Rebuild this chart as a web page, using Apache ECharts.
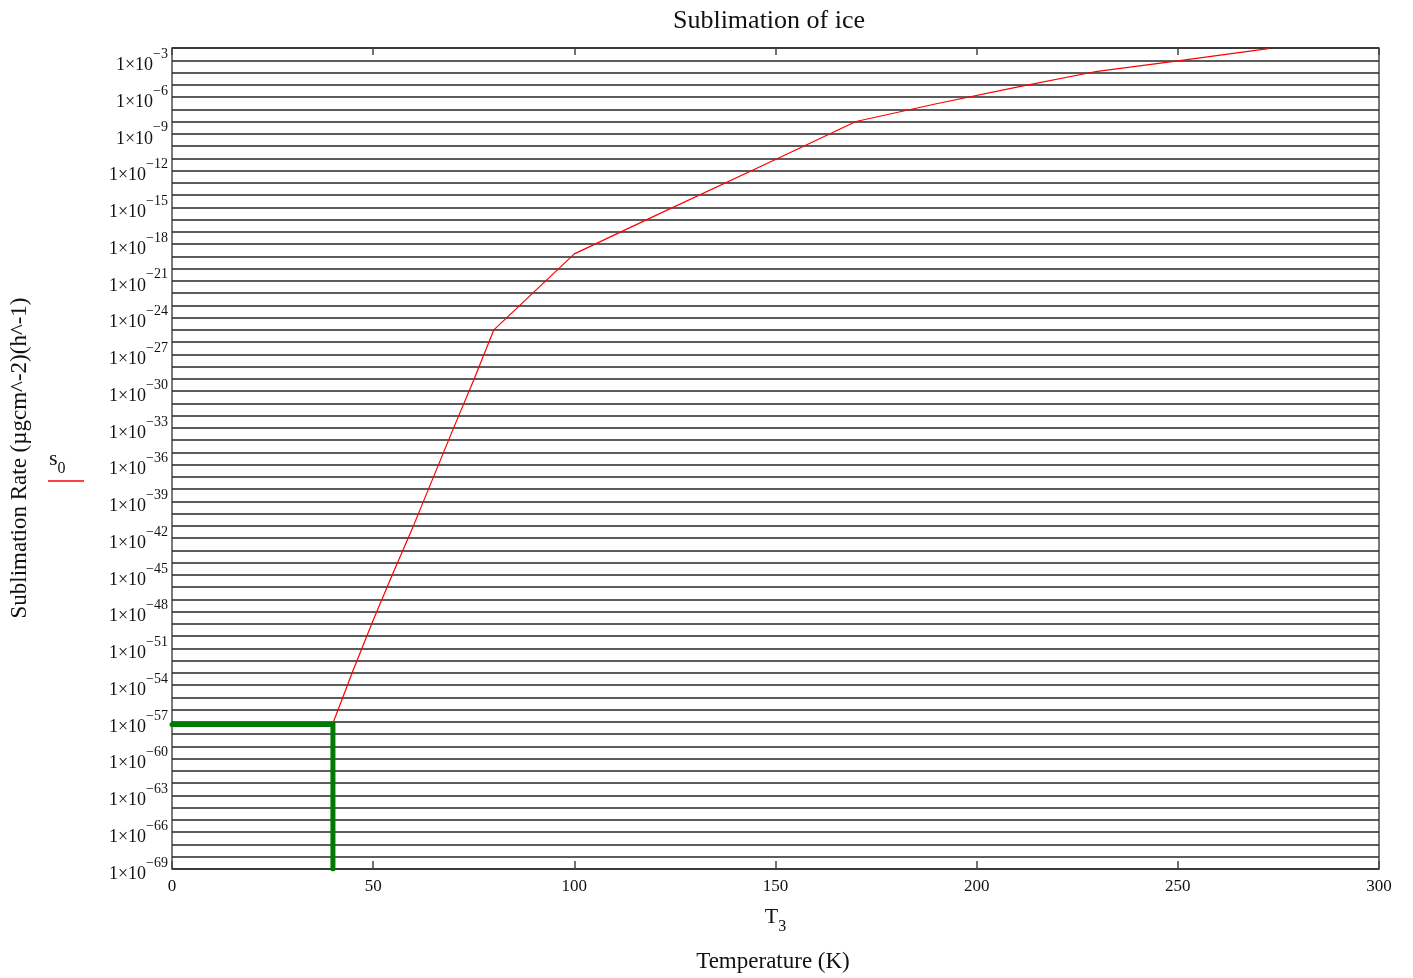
<!DOCTYPE html>
<html>
<head>
<meta charset="utf-8">
<script src="https://cdn.jsdelivr.net/npm/echarts@6/dist/echarts.min.js"></script>
<style>
  html, body { margin: 0; padding: 0; background: #ffffff; }
  #chart { width: 1413px; height: 978px; }
</style>
</head>
<body>
<div id="chart"></div>
<script>
// Temperature samples (K) and log10 of the sublimation rate (µg cm^-2 h^-1)
const temperatures = [40, 45, 50, 55, 60, 65, 70, 75, 80, 90, 100, 120, 150, 170, 190, 210, 230, 250, 272.5];
const log10Rate    = [-57.1, -52.8, -48.7, -44.8, -41.0, -37.0, -33.0, -29.1, -25.0, -21.9, -18.8, -15.7, -11.1, -8.0, -6.55, -5.2, -3.9, -3.05, -2.05];

// Marker: rate at the reference temperature, traced to both axes
const markerTemp = 40;
const markerLog10 = -57.2;

// Axis ranges
const xTickValues = [0, 50, 100, 150, 200, 250, 300];
const yDecadeMin = -69;
const yDecadeMax = -2;

const serif = '"Liberation Serif", "Times New Roman", serif';

const curve = temperatures.map((t, i) => [t, log10Rate[i]]);
const marker = [[xTickValues[0], markerLog10], [markerTemp, markerLog10], [markerTemp, yDecadeMin]];

const chart = echarts.init(document.getElementById('chart'), null, { renderer: 'canvas' });

chart.setOption({
  animation: false,
  backgroundColor: '#ffffff',
  grid: {
    left: 172, right: 34, top: 48, bottom: 109,
    show: true, borderColor: '#4d4d4d', borderWidth: 1.5, backgroundColor: 'transparent'
  },
  xAxis: [
    {
      type: 'value', position: 'bottom',
      min: xTickValues[0], max: xTickValues[xTickValues.length - 1], interval: 50,
      axisLine: { show: false },
      axisTick: { show: true, inside: true, length: 8, lineStyle: { color: '#444', width: 1.5 } },
      splitLine: { show: false },
      axisLabel: { fontFamily: serif, fontSize: 17, color: '#111', margin: 9 },
      name: '{t|T}{d|3}',
      nameLocation: 'middle',
      nameGap: 35,
      nameTextStyle: {
        rich: {
          t: { fontFamily: serif, fontSize: 22, color: '#111', verticalAlign: 'bottom', lineHeight: 24 },
          d: { fontFamily: serif, fontSize: 16, color: '#111', verticalAlign: 'bottom', lineHeight: 24, padding: [0, 0, -7, 0] }
        }
      }
    },
    {
      type: 'value', position: 'top',
      min: xTickValues[0], max: xTickValues[xTickValues.length - 1], interval: 50,
      axisLine: { show: false },
      axisTick: { show: true, inside: true, length: 7, lineStyle: { color: '#444', width: 1.5 } },
      axisLabel: { show: false },
      splitLine: { show: false }
    }
  ],
  yAxis: {
    type: 'value',
    min: yDecadeMin, max: yDecadeMax, interval: 1,
    axisLine: { show: false },
    axisTick: { show: false },
    splitLine: { show: true, lineStyle: { color: '#262626', width: 1.6 } },
    axisLabel: {
      margin: 4,
      formatter: function (v) {
        const n = Math.round(v);
        if (n % 3 !== 0) return '';
        return '{b|1×10}{s|−' + Math.abs(n) + '}';
      },
      rich: {
        b: { fontFamily: serif, fontSize: 18, color: '#111', lineHeight: 22, verticalAlign: 'bottom', padding: [0, 0, -3, 0] },
        s: { fontFamily: serif, fontSize: 14, color: '#111', lineHeight: 22, verticalAlign: 'bottom', padding: [0, 0, 10, 0] }
      }
    }
  },
  series: [
    {
      name: 's0',
      type: 'line',
      data: curve,
      showSymbol: false,
      symbol: 'none',
      clip: true,
      lineStyle: { color: '#ff0000', width: 1.2 },
      z: 3
    },
    {
      name: 'marker',
      type: 'line',
      data: marker,
      showSymbol: false,
      symbol: 'none',
      clip: true,
      lineStyle: { color: '#007a00', width: 5, cap: 'round', join: 'miter' },
      z: 4
    }
  ],
  graphic: [
    {
      type: 'text', x: 769, y: 21,
      style: { text: 'Sublimation of ice', font: '26px ' + serif, fill: '#111', align: 'center', verticalAlign: 'middle' }
    },
    {
      type: 'text', x: 773, y: 962,
      style: { text: 'Temperature (K)', font: '23px ' + serif, fill: '#111', align: 'center', verticalAlign: 'middle' }
    },
    {
      type: 'text', x: 20, y: 458, rotation: Math.PI / 2,
      style: { text: 'Sublimation Rate (µgcm^-2)(h^-1)', font: '23px ' + serif, fill: '#111', align: 'center', verticalAlign: 'middle' }
    },
    {
      type: 'text', x: 49, y: 458,
      style: {
        text: '{a|s}{b|0}',
        rich: {
          a: { fontFamily: serif, fontSize: 22, fill: '#111', verticalAlign: 'bottom', lineHeight: 24 },
          b: { fontFamily: serif, fontSize: 16, fill: '#111', verticalAlign: 'bottom', lineHeight: 24, padding: [0, 0, -7, 0] }
        },
        verticalAlign: 'middle'
      }
    },
    {
      type: 'line', shape: { x1: 48, y1: 481, x2: 84, y2: 481 },
      style: { stroke: '#ff0000', lineWidth: 1.5 }
    }
  ]
});
</script>
</body>
</html>
